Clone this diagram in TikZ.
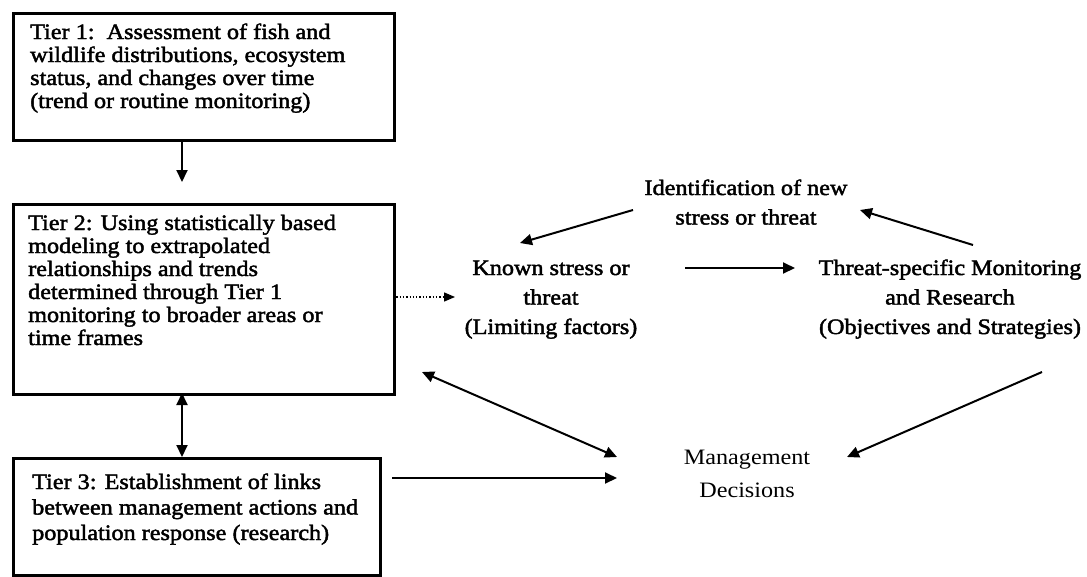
\documentclass[tikz,border=0pt]{standalone}
\usepackage{fontspec}
\setmainfont{Liberation Serif}
\newfontfamily\tfont{Liberation Serif}[FakeStretch=1.1,FakeBold=2]
\newfontfamily\lfont{Liberation Serif}[FakeStretch=1.1]
\usetikzlibrary{arrows.meta}
\begin{document}
\begin{tikzpicture}[x=1pt,y=-1pt,
  tbox/.style={draw=black,line width=2.5pt,inner sep=0pt,anchor=north west},
  ttext/.style={font=\tfont\fontsize{22}{23}\selectfont,align=left,anchor=base west,inner sep=0pt},
  rtext/.style={font=\tfont\fontsize{22}{29.5}\selectfont,align=center,anchor=base,inner sep=0pt},
  mtext/.style={font=\lfont\fontsize{22}{33}\selectfont,align=center,anchor=base,inner sep=0pt},
  arr/.style={line width=2pt,-{Triangle[length=12pt,width=11pt]}},
  darr/.style={line width=2pt,{Triangle[length=12pt,width=11pt]}-{Triangle[length=12pt,width=11pt]}},
  dotarr/.style={line width=1.3pt,dotted,-{Triangle[length=11pt,width=9pt]}}
]
\useasboundingbox[fill=white] (0,0) rectangle (1087,576);

% boxes
\node[tbox,minimum width=381pt,minimum height=127pt] (t1box) at (12,12) {};
\node[tbox,minimum width=381pt,minimum height=190pt] (t2box) at (12,203) {};
\node[tbox,minimum width=367pt,minimum height=117pt] (t3box) at (12,457) {};

% box texts (anchor base = baseline of the last line)
\node[ttext] (t1) at (30,108) {Tier 1:\ \ Assessment of fish and\\wildlife distributions, ecosystem\\status, and changes over time\\(trend or routine monitoring)};
\node[ttext] (t2) at (28,345) {Tier 2: Using statistically based\\modeling to extrapolated\\relationships and trends\\determined through Tier 1\\monitoring to broader areas or\\time frames};
\node[ttext,font=\tfont\fontsize{22}{25.5}\selectfont] (t3) at (32,540) {Tier 3: Establishment of links\\between management actions and\\population response (research)};

% free labels
\node[rtext] (ident) at (746,224.5) {Identification of new\\stress or threat};
\node[rtext] (known) at (551,334) {Known stress or\\threat\\(Limiting factors)};
\node[rtext] (tsm) at (950,334) {Threat-specific Monitoring\\and Research\\(Objectives and Strategies)};
\node[mtext] (mgmt) at (747,497) {Management\\Decisions};

% connector end points
\coordinate (a1s) at (182,139);
\coordinate (a1e) at (182,182);
\coordinate (a2s) at (182,393);
\coordinate (a2e) at (182,457);
\coordinate (a3s) at (393,297);
\coordinate (a3e) at (455,297);
\coordinate (a4s) at (633,210);
\coordinate (a4e) at (520,243);
\coordinate (a5s) at (685,268);
\coordinate (a5e) at (795,268);
\coordinate (a6s) at (973,245);
\coordinate (a6e) at (860,210);
\coordinate (a7s) at (1042,372);
\coordinate (a7e) at (847,457);
\coordinate (a8s) at (422,372);
\coordinate (a8e) at (617,457);
\coordinate (a9s) at (392,478);
\coordinate (a9e) at (617,478);

\draw[arr] (a1s) -- (a1e);
\draw[darr] (a2s) -- (a2e);
\draw[dotarr] (a3s) -- (a3e);
\draw[arr] (a4s) -- (a4e);
\draw[arr] (a5s) -- (a5e);
\draw[arr] (a6s) -- (a6e);
\draw[arr] (a7s) -- (a7e);
\draw[darr] (a8s) -- (a8e);
\draw[arr] (a9s) -- (a9e);
\end{tikzpicture}
\end{document}
